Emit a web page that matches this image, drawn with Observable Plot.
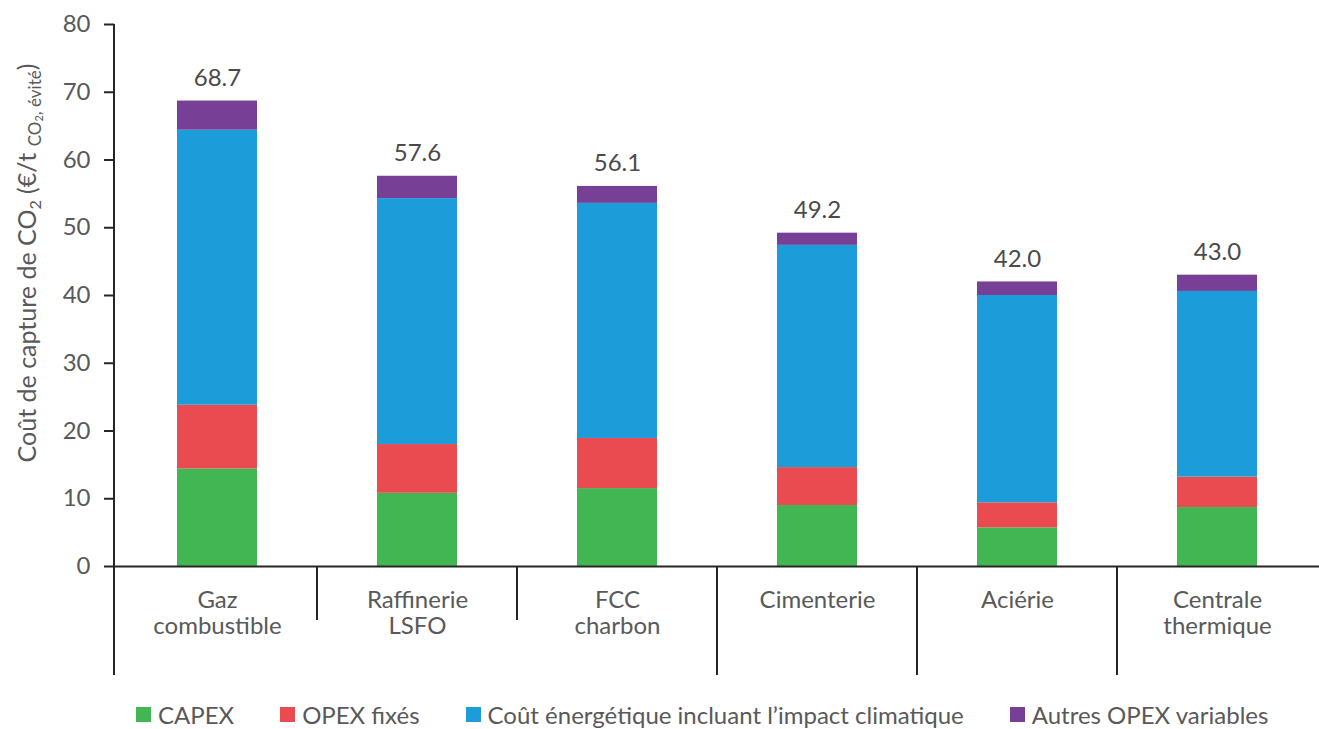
<!DOCTYPE html>
<html>
<head>
<meta charset="utf-8">
<script src="https://cdn.jsdelivr.net/npm/d3@7"></script>
<script src="https://cdn.jsdelivr.net/npm/@observablehq/plot@0.6"></script>
<style>
  body { margin: 0; background: #fff; font-family: Lato, "Open Sans", sans-serif; }
  #chart { width: 1319px; }
  #legend { display: flex; flex-wrap: nowrap; align-items: center; margin-left: 136px; margin-top: 10px; font-size: 24px; color: #595959; white-space: nowrap; width: 1180px; }
  .item { display: flex; align-items: center; margin-right: 46px; flex-shrink: 0; }
  .sw { width: 15px; height: 15px; margin-right: 7px; flex-shrink: 0; }
</style>
</head>
<body>
<div id="chart"></div>
<div id="legend"></div>
<script>
const categories = ["Gaz\ncombustible", "Raffinerie\nLSFO", "FCC\ncharbon", "Cimenterie", "Aciérie", "Centrale\nthermique"];
const groups = ["g1", "g1", "g1", "g2", "g3", "g4"];
const series = ["CAPEX", "OPEX fixés", "Coût énergétique incluant l’impact climatique", "Autres OPEX variables"];
const capex = [14.4, 10.8, 11.5, 9.0, 5.7, 8.7];
const opexFixes = [9.4, 7.2, 7.4, 5.6, 3.7, 4.5];
const coutEnergetique = [40.6, 36.3, 34.7, 32.8, 30.6, 27.4];
const autresOpex = [4.3, 3.3, 2.5, 1.8, 2.0, 2.4];
const totals = [68.7, 57.6, 56.1, 49.2, 42.0, 43.0];
const colors = ["#41b653", "#ea4b50", "#1c9cd8", "#773f95"];
const yTicks = [0, 10, 20, 30, 40, 50, 60, 70, 80];

const seriesValues = [capex, opexFixes, coutEnergetique, autresOpex];
const data = [];
series.forEach((s, si) => categories.forEach((c, ci) => data.push({cat: c, series: s, value: seriesValues[si][ci]})));
const totalsData = categories.map((c, i) => ({cat: c, total: totals[i]}));

const axisColor = "#262626";
const textColor = "#595959";

function frameLines(index, scales, values, dimensions) {
  const g = d3.create("svg:g").attr("stroke", axisColor).attr("stroke-width", 2);
  const x = scales.x, y = scales.y;
  const bw = x.bandwidth();
  const step = x(categories[1]) - x(categories[0]);
  const y0 = y(0);
  const longEnd = dimensions.height - 15;
  const shortEnd = y0 + 54;
  g.append("line").attr("x1", dimensions.marginLeft).attr("x2", dimensions.marginLeft)
    .attr("y1", y(80)).attr("y2", longEnd);
  for (let i = 1; i < categories.length; i++) {
    const bx = x(categories[i]) - (step - bw) / 2;
    const isLong = groups[i] !== groups[i - 1];
    g.append("line").attr("x1", bx).attr("x2", bx).attr("y1", y0).attr("y2", isLong ? longEnd : shortEnd);
  }
  return g.node();
}

function yLabel(index, scales, values, dimensions) {
  const cy = (scales.y(80) + scales.y(0)) / 2 - 32;
  const t = d3.create("svg:text")
    .attr("transform", `translate(36,${cy}) rotate(-90)`)
    .attr("text-anchor", "middle")
    .attr("fill", textColor)
    .attr("font-size", 25);
  t.append("tspan").text("Coût de capture de CO");
  t.append("tspan").attr("font-size", 16).attr("dy", 5).text("2");
  t.append("tspan").attr("dy", -5).text(" (€/t ");
  t.append("tspan").attr("font-size", 17).attr("dy", 5).text("CO");
  t.append("tspan").attr("font-size", 11).attr("dy", 2).text("2");
  t.append("tspan").attr("font-size", 17).attr("dy", -2).text(", évité");
  t.append("tspan").attr("dy", -5).text(")");
  return t.node();
}

const chart = Plot.plot({
  width: 1319,
  height: 690,
  marginTop: 24,
  marginBottom: 124,
  marginLeft: 114,
  marginRight: 0,
  style: {fontFamily: "Lato, 'Open Sans', sans-serif", background: "#fff"},
  x: {domain: categories, paddingInner: 0.6, paddingOuter: 0.3, axis: null},
  y: {domain: [0, 80], axis: null},
  color: {domain: series, range: colors},
  marks: [
    Plot.barY(data, {x: "cat", y: "value", fill: "series"}),
    Plot.axisY({ticks: yTicks, tickSize: 10, tickPadding: 14, fontSize: 24, stroke: axisColor, strokeWidth: 2, fill: textColor, label: null, tickFormat: d => String(d)}),
    Plot.axisX({tickSize: 0, tickPadding: 22, fontSize: 24, fill: textColor, label: null, lineHeight: 1.12}),
    Plot.ruleY([0], {stroke: axisColor, strokeWidth: 2}),
    frameLines,
    yLabel,
    Plot.text(totalsData, {x: "cat", y: "total", text: d => d.total.toFixed(1), dy: -15, lineAnchor: "bottom", fontSize: 24, fill: "#4a4a4a"})
  ]
});
document.getElementById("chart").appendChild(chart);

const legend = document.getElementById("legend");
series.forEach((s, i) => {
  const item = document.createElement("div");
  item.className = "item";
  const sw = document.createElement("span");
  sw.className = "sw";
  sw.style.background = colors[i];
  const label = document.createElement("span");
  label.textContent = s;
  item.appendChild(sw);
  item.appendChild(label);
  legend.appendChild(item);
});
</script>
</body>
</html>
